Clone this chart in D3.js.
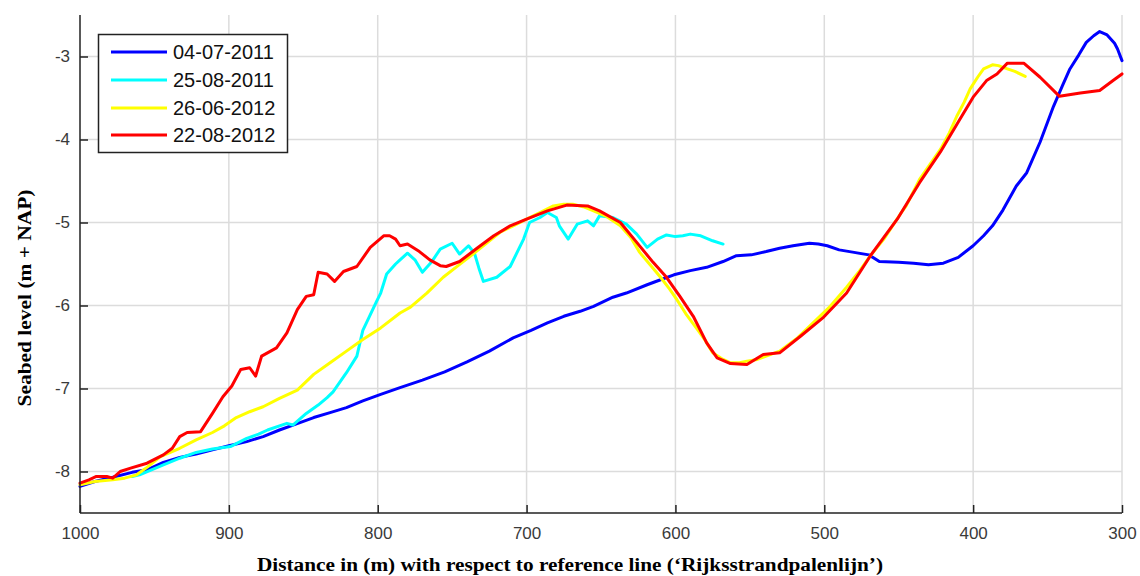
<!DOCTYPE html>
<html>
<head>
<meta charset="utf-8">
<script src="https://cdn.jsdelivr.net/npm/d3@7"></script>
<style>
  html, body { margin: 0; padding: 0; background: #fff; }
  svg { display: block; }
</style>
</head>
<body>
<svg id="chart" width="1140" height="576"></svg>
<script>
// ---------- data ----------
const seriesNames = ["04-07-2011", "25-08-2011", "26-06-2012", "22-08-2012"];
const xTicks = [1000, 900, 800, 700, 600, 500, 400, 300];
const yTicks = [-8, -7, -6, -5, -4, -3];

const blueDist = [1000,990,978,965,955,944,933,922,911,900,888,877,866,855,843,832,821,810,798,785,770,755,740,725,709,697,686,675,664,655,642,633,619,610,601,590,579,568,559,549,539,530,521,510,504,498,490,480,470,463,450,440,430,420,410,400,393,387,380,371,364,355,346,340,335,329,324,319,315,310,305,303,300];
const blueLevel = [-8.18,-8.12,-8.07,-8.01,-7.98,-7.89,-7.83,-7.79,-7.74,-7.69,-7.64,-7.58,-7.50,-7.43,-7.35,-7.29,-7.23,-7.15,-7.07,-6.99,-6.90,-6.80,-6.68,-6.55,-6.39,-6.30,-6.21,-6.13,-6.07,-6.01,-5.90,-5.85,-5.75,-5.69,-5.63,-5.58,-5.54,-5.47,-5.40,-5.39,-5.35,-5.31,-5.28,-5.25,-5.26,-5.28,-5.33,-5.36,-5.39,-5.47,-5.48,-5.49,-5.51,-5.49,-5.42,-5.28,-5.16,-5.04,-4.85,-4.56,-4.40,-4.03,-3.60,-3.35,-3.15,-2.98,-2.83,-2.75,-2.70,-2.74,-2.84,-2.91,-3.05];

const cyanDist = [965,960,952,944,933,922,911,899,888,880,874,861,857,848,840,834,830,821,814,810,806,801,798,794,788,785,780,775,770,764,758,750,745,739,735,732,729,720,711,702,698,691,686,680,678,672,666,659,655,651,642,633,626,619,612,606,600,595,590,583,575,568];
const cyanLevel = [-8.06,-8.04,-7.98,-7.92,-7.84,-7.77,-7.73,-7.70,-7.60,-7.55,-7.50,-7.42,-7.44,-7.30,-7.20,-7.11,-7.04,-6.81,-6.61,-6.30,-6.15,-5.96,-5.85,-5.62,-5.50,-5.45,-5.37,-5.45,-5.60,-5.48,-5.32,-5.25,-5.38,-5.28,-5.37,-5.55,-5.71,-5.66,-5.53,-5.20,-5.00,-4.94,-4.88,-4.94,-5.04,-5.20,-5.02,-4.98,-5.04,-4.92,-4.94,-5.02,-5.14,-5.30,-5.20,-5.15,-5.17,-5.16,-5.14,-5.16,-5.22,-5.26];

const yellowDist = [1000,990,978,970,962,955,946,933,922,911,903,895,886,877,866,854,843,832,821,810,798,785,778,767,756,746,736,727,718,709,700,691,682,675,669,662,655,646,637,630,624,617,610,604,599,593,586,580,575,569,563,557,552,545,539,530,518,507,496,485,477,469,460,449,445,436,429,422,416,411,406,402,397,393,387,383,380,372,365];
const yellowLevel = [-8.16,-8.12,-8.10,-8.08,-8.04,-7.95,-7.82,-7.72,-7.62,-7.53,-7.45,-7.35,-7.28,-7.22,-7.12,-7.02,-6.83,-6.69,-6.55,-6.41,-6.27,-6.09,-6.02,-5.85,-5.66,-5.52,-5.38,-5.25,-5.12,-5.04,-4.96,-4.88,-4.80,-4.78,-4.78,-4.81,-4.86,-4.93,-5.04,-5.18,-5.36,-5.51,-5.66,-5.80,-5.93,-6.10,-6.27,-6.42,-6.57,-6.64,-6.69,-6.69,-6.67,-6.65,-6.61,-6.55,-6.39,-6.20,-6.01,-5.78,-5.60,-5.40,-5.20,-4.90,-4.80,-4.48,-4.30,-4.12,-3.92,-3.72,-3.55,-3.39,-3.25,-3.15,-3.10,-3.11,-3.13,-3.18,-3.24];

const redDist = [1000,994,989,982,978,973,966,955,944,938,933,928,919,911,904,898,892,886,882,878,868,861,854,848,843,840,834,829,823,814,805,796,792,788,785,780,772,765,758,754,745,734,722,711,700,686,673,659,651,637,626,615,606,597,588,579,572,563,552,541,530,516,501,485,469,451,436,422,409,400,391,384,377,366,355,342,328,315,306,300];
const redLevel = [-8.14,-8.10,-8.06,-8.06,-8.08,-8.00,-7.96,-7.90,-7.80,-7.72,-7.58,-7.53,-7.52,-7.30,-7.10,-6.97,-6.77,-6.75,-6.85,-6.61,-6.51,-6.33,-6.05,-5.89,-5.87,-5.60,-5.62,-5.71,-5.59,-5.53,-5.30,-5.16,-5.16,-5.20,-5.28,-5.26,-5.35,-5.45,-5.52,-5.53,-5.47,-5.32,-5.16,-5.04,-4.96,-4.86,-4.79,-4.80,-4.86,-5.00,-5.24,-5.48,-5.66,-5.89,-6.13,-6.45,-6.63,-6.70,-6.71,-6.59,-6.57,-6.37,-6.15,-5.85,-5.40,-4.96,-4.52,-4.15,-3.76,-3.49,-3.29,-3.21,-3.08,-3.08,-3.25,-3.48,-3.44,-3.41,-3.29,-3.21];

const seriesColors = ["#0000ff", "#00ffff", "#ffff00", "#ff0000"];

// ---------- build ----------
const series = [
  {name: seriesNames[0], color: seriesColors[0], pts: blueDist.map((d, i) => [d, blueLevel[i]])},
  {name: seriesNames[1], color: seriesColors[1], pts: cyanDist.map((d, i) => [d, cyanLevel[i]])},
  {name: seriesNames[2], color: seriesColors[2], pts: yellowDist.map((d, i) => [d, yellowLevel[i]])},
  {name: seriesNames[3], color: seriesColors[3], pts: redDist.map((d, i) => [d, redLevel[i]])}
];

const L = 80, R = 1122, T = 15, B = 513;
const svg = d3.select("#chart");
const x = d3.scaleLinear().domain([1000, 300]).range([L, R]);
const y = d3.scaleLinear().domain([-8.5, -2.5]).range([B, T]);

// grid
const grid = svg.append("g");
grid.selectAll(".gx").data(xTicks.slice(1)).enter().append("line")
  .attr("x1", d => x(d)).attr("x2", d => x(d))
  .attr("y1", T).attr("y2", B)
  .attr("stroke", "#dcdcdc").attr("stroke-width", 1.5);
grid.selectAll(".gy").data(yTicks).enter().append("line")
  .attr("x1", L).attr("x2", R)
  .attr("y1", d => y(d)).attr("y2", d => y(d))
  .attr("stroke", "#dcdcdc").attr("stroke-width", 1.5);

// lines
const line = d3.line().x(d => x(d[0])).y(d => y(d[1]));
svg.append("g").selectAll("path").data(series).enter().append("path")
  .attr("d", d => line(d.pts))
  .attr("fill", "none")
  .attr("stroke", d => d.color)
  .attr("stroke-width", 3)
  .attr("stroke-linejoin", "round")
  .attr("stroke-linecap", "round");

// axes
const fmt = d => String(d);
const xAxis = d3.axisBottom(x).tickValues(xTicks).tickSize(-8).tickPadding(14).tickFormat(fmt);
const yAxis = d3.axisLeft(y).tickValues(yTicks).tickSize(-8).tickPadding(10).tickFormat(fmt);

const gx = svg.append("g").attr("transform", `translate(0,${B})`).call(xAxis);
const gy = svg.append("g").attr("transform", `translate(${L},0)`).call(yAxis);
[gx, gy].forEach(g => {
  g.select(".domain").attr("stroke", "#222").attr("stroke-width", 1.5);
  g.selectAll(".tick line").attr("stroke", "#222").attr("stroke-width", 1.5);
  g.selectAll(".tick text").attr("fill", "#3a3a3a")
    .style("font-family", "Arial, 'Liberation Sans', sans-serif").style("font-size", "17px");
});
gy.select(".domain").attr("d", `M0,${T}V${B}`);
gx.select(".domain").attr("d", `M${L},0H${R}`);

// axis titles
svg.append("text")
  .attr("x", 570).attr("y", 571)
  .attr("text-anchor", "middle")
  .attr("textLength", 626).attr("lengthAdjust", "spacingAndGlyphs")
  .style("font-family", "'Liberation Serif', 'Times New Roman', serif")
  .style("font-weight", "bold").style("font-size", "18px")
  .attr("fill", "#000")
  .text("Distance in (m) with respect to reference line (\u2018Rijksstrandpalenlijn\u2019)");

svg.append("text")
  .attr("transform", "translate(31,298) rotate(-90)")
  .attr("text-anchor", "middle")
  .attr("textLength", 217).attr("lengthAdjust", "spacingAndGlyphs")
  .style("font-family", "'Liberation Serif', 'Times New Roman', serif")
  .style("font-weight", "bold").style("font-size", "18px")
  .attr("fill", "#000")
  .text("Seabed level (m + NAP)");

// legend
const lg = svg.append("g");
lg.append("rect").attr("x", 98.5).attr("y", 34.5).attr("width", 189).attr("height", 118)
  .attr("fill", "#fff").attr("stroke", "#222").attr("stroke-width", 1.5);
const rowY = [52, 80, 108, 135];
series.forEach((s, i) => {
  lg.append("line").attr("x1", 111).attr("x2", 167).attr("y1", rowY[i]).attr("y2", rowY[i])
    .attr("stroke", s.color).attr("stroke-width", 3);
  lg.append("text").attr("x", 173).attr("y", rowY[i] + 7)
    .style("font-family", "Arial, 'Liberation Sans', sans-serif").style("font-size", "20px")
    .attr("fill", "#111")
    .text(s.name);
});
</script>
</body>
</html>
